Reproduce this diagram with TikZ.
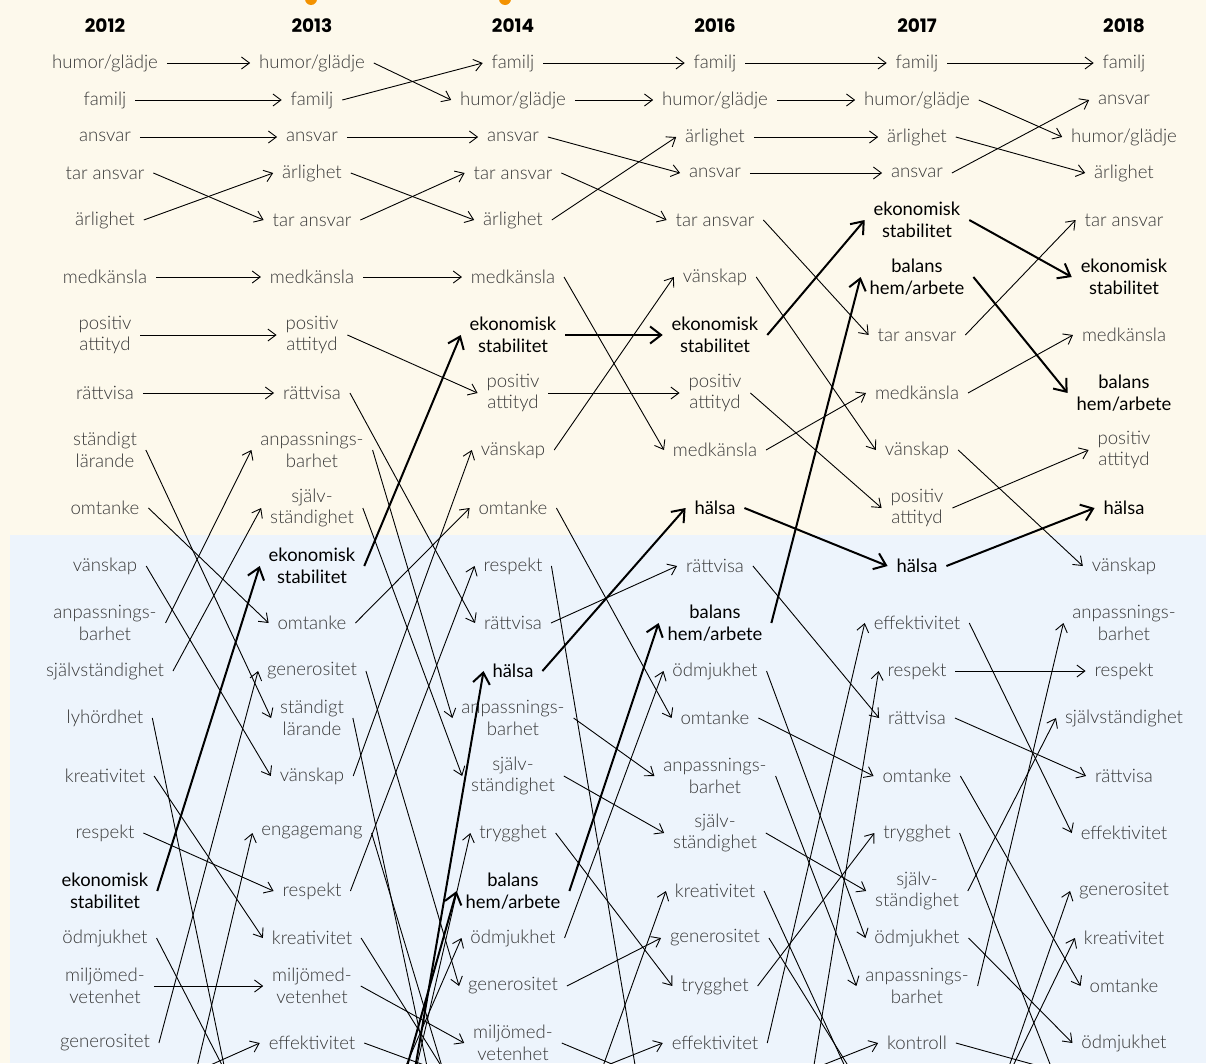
\documentclass[tikz,border=0pt]{standalone}
\usepackage{fontspec}
\usetikzlibrary{arrows.meta}
\newfontfamily\valfont{Lato Light}
\newfontfamily\keyfont{Lato}
\newfontfamily\yearfont{Poppins}
\definecolor{cream}{HTML}{FDF9EC}
\definecolor{sky}{HTML}{EDF4FC}
\definecolor{valgray}{HTML}{383838}
\definecolor{dot}{HTML}{F39200}
% column centres (px)
\def\xa{105}
\def\xb{312}
\def\xc{513}
\def\xd{715}
\def\xe{917}
\def\xf{1124}
\tikzset{
  val/.style={font=\valfont\fontsize{18.6}{21.5}\selectfont, text=valgray, align=center, inner sep=0pt, outer xsep=9pt, outer ysep=0pt, yshift=-1pt},
  key/.style={val, font=\keyfont\fontsize{18.4}{21.5}\selectfont, text=black},
  year/.style={font=\yearfont\bfseries\fontsize{18.5}{20}\selectfont},
  link/.style={-{Straight Barb[length=8pt,width=12pt]}, line width=0.9pt},
  keylink/.style={-{Straight Barb[length=11pt,width=17pt]}, line width=2pt}
}
\begin{document}
\begin{tikzpicture}[x=1pt,y=-1pt]

\clip (0,0) rectangle (1206,1063);
\fill[cream] (0,0) rectangle (1206,1063);
\fill[sky] (10,535) rectangle (1206,1063);
\fill[dot] (311,-1) circle [radius=6pt];
\fill[dot] (505,-1) circle [radius=6pt];

\foreach \x/\yr in {\xa/2012,\xb/2013,\xc/2014,\xd/2016,\xe/2017,\xf/2018}
  \node[year] (h\yr) at (\x,26) {\yr};

%2012
\foreach \y/\k/\t in {62/hg/{humor/glädje},99/fa/familj,136/an/ansvar,172/ta/{tar ansvar},219/ar/ärlighet,
    276/mk/medkänsla,334/pa/{positiv\\attityd},392/rv/rättvisa,449/sl/{ständigt\\lärande},507/om/omtanke,
    565/vs/vänskap,622/ab/{anpassnings-\\barhet},670/ss/självständighet,717/ly/lyhördhet,775/kr/kreativitet,
    832/re/respekt,937/od/ödmjukhet,985/mm/{miljömed-\\vetenhet},1042/ge/generositet}
  \node[val] (a-\k) at (\xa,\y) {\t};
\node[key] (a-es) at (\xa,890) {ekonomisk\\stabilitet};

%2013
\foreach \y/\k/\t in {62/hg/{humor/glädje},99/fa/familj,136/an/ansvar,172/ar/ärlighet,219/ta/{tar ansvar},
    276/mk/medkänsla,334/pa/{positiv\\attityd},392/rv/rättvisa,449/ab/{anpassnings-\\barhet},507/ss/{själv-\\ständighet},
    622/om/omtanke,670/ge/generositet,717/sl/{ständigt\\lärande},775/vs/vänskap,832/en/engagemang,
    890/re/respekt,937/kr/kreativitet,985/mm/{miljömed-\\vetenhet},1042/ef/effektivitet}
  \node[val] (b-\k) at (\xb,\y) {\t};
\node[key] (b-es) at (\xb,565) {ekonomisk\\stabilitet};

%2014
\foreach \y/\k/\t in {62/fa/familj,99/hg/{humor/glädje},136/an/ansvar,172/ta/{tar ansvar},219/ar/ärlighet,
    276/mk/medkänsla,392/pa/{positiv\\attityd},449/vs/vänskap,507/om/omtanke,565/re/respekt,622/rv/rättvisa,
    717/ab/{anpassnings-\\barhet},775/ss/{själv-\\ständighet},832/tr/trygghet,937/od/ödmjukhet,
    985/ge/generositet,1042/mm/{miljömed-\\vetenhet}}
  \node[val] (c-\k) at (\xc,\y) {\t};
\node[key] (c-es) at (\xc,334) {ekonomisk\\stabilitet};
\node[key] (c-ha) at (\xc,670) {hälsa};
\node[key] (c-bh) at (\xc,890) {balans\\hem/arbete};

%2016
\foreach \y/\k/\t in {62/fa/familj,99/hg/{humor/glädje},136/ar/ärlighet,172/an/ansvar,219/ta/{tar ansvar},
    276/vs/vänskap,392/pa/{positiv\\attityd},449/mk/medkänsla,565/rv/rättvisa,670/od/ödmjukhet,717/om/omtanke,
    775/ab/{anpassnings-\\barhet},832/ss/{själv-\\ständighet},890/kr/kreativitet,937/ge/generositet,
    985/tr/trygghet,1042/ef/effektivitet}
  \node[val] (d-\k) at (\xd,\y) {\t};
\node[key] (d-es) at (\xd,334) {ekonomisk\\stabilitet};
\node[key] (d-ha) at (\xd,507) {hälsa};
\node[key] (d-bh) at (\xd,622) {balans\\hem/arbete};

%2017
\foreach \y/\k/\t in {62/fa/familj,99/hg/{humor/glädje},136/ar/ärlighet,172/an/ansvar,334/ta/{tar ansvar},
    392/mk/medkänsla,449/vs/vänskap,507/pa/{positiv\\attityd},622/ef/effektivitet,670/re/respekt,717/rv/rättvisa,
    775/om/omtanke,832/tr/trygghet,890/ss/{själv-\\ständighet},937/od/ödmjukhet,985/ab/{anpassnings-\\barhet},
    1042/ko/kontroll}
  \node[val] (e-\k) at (\xe,\y) {\t};
\node[key] (e-es) at (\xe,219) {ekonomisk\\stabilitet};
\node[key] (e-bh) at (\xe,276) {balans\\hem/arbete};
\node[key] (e-ha) at (\xe,565) {hälsa};

%2018
\foreach \y/\k/\t in {62/fa/familj,99/an/ansvar,136/hg/{humor/glädje},172/ar/ärlighet,219/ta/{tar ansvar},
    334/mk/medkänsla,449/pa/{positiv\\attityd},565/vs/vänskap,622/ab/{anpassnings-\\barhet},670/re/respekt,
    717/ss/självständighet,775/rv/rättvisa,832/ef/effektivitet,890/ge/generositet,937/kr/kreativitet,
    985/om/omtanke,1042/od/ödmjukhet}
  \node[val] (f-\k) at (\xf,\y) {\t};
\node[key] (f-es) at (\xf,276) {ekonomisk\\stabilitet};
\node[key] (f-bh) at (\xf,392) {balans\\hem/arbete};
\node[key] (f-ha) at (\xf,507) {hälsa};

%ends of the links that run out below the page
\coordinate (a-en-e) at (150,1266);
\coordinate (a-ef-e) at (150,1092);
\coordinate (b-ly-w) at (258,1230);
\coordinate (b-od-w) at (258,1135);
\coordinate (b-ha-e) at (365,1359);
\coordinate (b-bh-e) at (365,1215);
\coordinate (b-tr-e) at (365,1291);
\coordinate (b-od-e) at (365,1160);
\coordinate (c-sl-w) at (465,1245);
\coordinate (c-en-w) at (465,1143);
\coordinate (c-kr-w) at (465,1104);
\coordinate (c-ef-w) at (465,1080);
\coordinate (c-kr-e) at (560,1186);
\coordinate (c-ef-e) at (560,1084);
\coordinate (d-re-w) at (662,1226);
\coordinate (d-mm-w) at (662,1085);
\coordinate (d-re-e) at (765,1364);
\coordinate (d-ko-e) at (765,1088);
\coordinate (e-kr-w) at (865,1110);
\coordinate (e-ge-w) at (865,1093);
\coordinate (e-ge-e) at (965,1193);
\coordinate (e-kr-e) at (965,1165);
\coordinate (f-tr-w) at (1075,1128);
\coordinate (f-ko-w) at (1075,1076);

%2012 -> 2013
\foreach \k in {hg,fa,an,ta,ar,mk,pa,rv,sl,om,vs,ab,ss,kr,re,mm,ge}
  \draw[link] (a-\k.east) -- (b-\k.west);
\draw[keylink] (a-es.east) -- (b-es.west);
\draw[link] (a-ly.east) -- (b-ly-w);
\draw[link] (a-od.east) -- (b-od-w);
\draw[link] (a-en-e) -- (b-en.west);
\draw[link] (a-ef-e) -- (b-ef.west);

%2013 -> 2014
\foreach \k in {hg,fa,an,ar,ta,mk,pa,rv,ab,ss,om,ge,vs,re,mm}
  \draw[link] (b-\k.east) -- (c-\k.west);
\draw[keylink] (b-es.east) -- (c-es.west);
\foreach \k in {sl,en,kr,ef}
  \draw[link] (b-\k.east) -- (c-\k-w);
\draw[keylink] (b-ha-e) -- (c-ha.west);
\draw[keylink] (b-bh-e) -- (c-bh.west);
\draw[link] (b-tr-e) -- (c-tr.west);
\draw[link] (b-od-e) -- (c-od.west);

%2014 -> 2016
\foreach \k in {fa,hg,an,ta,ar,mk,pa,vs,om,rv,ab,ss,tr,od,ge}
  \draw[link] (c-\k.east) -- (d-\k.west);
\foreach \k in {es,ha,bh}
  \draw[keylink] (c-\k.east) -- (d-\k.west);
\draw[link] (c-re.east) -- (d-re-w);
\draw[link] (c-mm.east) -- (d-mm-w);
\draw[link] (c-kr-e) -- (d-kr.west);
\draw[link] (c-ef-e) -- (d-ef.west);

%2016 -> 2017
\foreach \k in {fa,hg,ar,an,ta,vs,pa,mk,rv,od,om,ab,ss,tr,ef}
  \draw[link] (d-\k.east) -- (e-\k.west);
\foreach \k in {es,ha,bh}
  \draw[keylink] (d-\k.east) -- (e-\k.west);
\draw[link] (d-kr.east) -- (e-kr-w);
\draw[link] (d-ge.east) -- (e-ge-w);
\draw[link] (d-re-e) -- (e-re.west);
\draw[link] (d-ko-e) -- (e-ko.west);

%2017 -> 2018
\foreach \k in {fa,hg,ar,an,ta,mk,vs,pa,ef,re,rv,om,ss,od,ab}
  \draw[link] (e-\k.east) -- (f-\k.west);
\foreach \k in {es,bh,ha}
  \draw[keylink] (e-\k.east) -- (f-\k.west);
\draw[link] (e-tr.east) -- (f-tr-w);
\draw[link] (e-ko.east) -- (f-ko-w);
\draw[link] (e-ge-e) -- (f-ge.west);
\draw[link] (e-kr-e) -- (f-kr.west);

\end{tikzpicture}
\end{document}
